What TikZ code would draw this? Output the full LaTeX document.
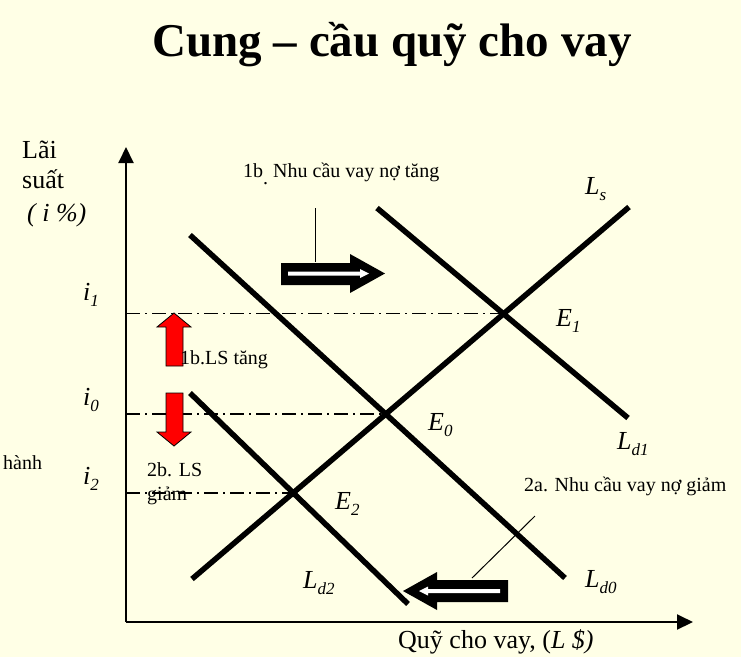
\documentclass[tikz,border=0pt]{standalone}
\usepackage{fontspec}
\setmainfont{Liberation Serif}
\definecolor{bg}{HTML}{FFFFE6}
\newcommand\fsz[1]{\fontsize{#1}{#1}\selectfont}
\newcommand\lab[2]{\textit{#1}\raisebox{-0.24em}{\fsz{17}\textit{#2}}}
\tikzset{
  txt/.style={inner sep=0pt, anchor=base west, font=\fsz{20}},
  big/.style={inner sep=0pt, anchor=base west, font=\fsz{26}},
  curve/.style={line width=5.5pt, line cap=butt},
  axis/.style={line width=2pt, -{Triangle[length=16pt,width=15pt]}},
  guide/.style={line width=1.3pt, dash pattern=on 14pt off 5pt on 2pt off 5pt},
  redarrow/.style={fill=red, draw=black, line width=0.8pt, line join=miter},
  fatarrow/.style={fill=black},
  callout/.style={line width=1pt}
}
\usetikzlibrary{arrows.meta}
\begin{document}
\begin{tikzpicture}[x=1pt,y=-1pt]
\fill[bg] (0,0) rectangle (741,657);
\useasboundingbox (0,0) rectangle (741,657);

% title
\node[inner sep=0pt, anchor=base, font=\fsz{47}\bfseries] (title) at (392,56) {Cung – cầu quỹ cho vay};

% axes
\coordinate (O) at (126,622);
\coordinate (ytop) at (126,147);
\coordinate (xend) at (693,622);
\draw[axis] (O) -- (ytop);
\draw[axis] (O) -- (xend);

% curves
\coordinate (ls1) at (192,579);
\coordinate (ls2) at (629,207);
\coordinate (d1a) at (377,208);
\coordinate (d1b) at (628,418);
\coordinate (d0a) at (190,235);
\coordinate (d0b) at (565,578);
\coordinate (d2a) at (190,393);
\coordinate (d2b) at (408,604);
\draw[curve] (ls1) -- (ls2);
\draw[curve] (d1a) -- (d1b);
\draw[curve] (d0a) -- (d0b);
\draw[curve] (d2a) -- (d2b);

\coordinate (E1) at (intersection of ls1--ls2 and d1a--d1b);
\coordinate (E0) at (intersection of ls1--ls2 and d0a--d0b);
\coordinate (E2) at (intersection of ls1--ls2 and d2a--d2b);

% guides
\draw[guide] (O |- E1) -- (E1);
\draw[guide] (O |- E0) -- (E0);
\draw[guide] (O |- E2) -- (E2);

% red arrows
\draw[redarrow] (166,366) -- (166,327) -- (157,327) -- (174,313) -- (191,327) -- (183,327) -- (183,366) -- cycle;
\draw[redarrow] (166,393) -- (183,393) -- (183,432) -- (191,432) -- (174,446) -- (157,432) -- (166,432) -- cycle;

% fat shift arrows
\fill[fatarrow] (281,263) -- (350,263) -- (350,254) -- (385,273.5) -- (350,293) -- (350,285) -- (281,285) -- cycle;
\fill[white] (288,271.5) -- (360,271.5) -- (360,269) -- (369,273.5) -- (360,278) -- (360,275.5) -- (288,275.5) -- cycle;
\fill[fatarrow] (508,580) -- (437,580) -- (437,572) -- (403,591) -- (437,610) -- (437,602) -- (508,602) -- cycle;
\fill[white] (500,589) -- (428,589) -- (428,586.5) -- (419,591) -- (428,595.5) -- (428,593) -- (500,593) -- cycle;

% callouts
\coordinate (c1a) at (315,208);
\coordinate (c1b) at (315,262);
\draw[callout] (c1a) -- (c1b);
\coordinate (c2a) at (535,516);
\coordinate (c2b) at (472,578);
\draw[callout] (c2a) -- (c2b);

% axis labels
\node[big] (lai) at (22,158) {Lãi};
\node[big] (suat) at (22,188) {suất};
\node[big] (ipct) at (27,221) {\itshape ( i \%)};
\node[big] (xlab) at (398,648) {Quỹ cho vay, (\textit{L \$)}};

\node[big] (i1) at (83,300) {\lab{i}{1}};
\node[big] (i0) at (83,405) {\lab{i}{0}};
\node[big] (i2) at (83,484) {\lab{i}{2}};

\node[big] (lE1) at (556,326) {\lab{E}{1}};
\node[big] (lE0) at (428,430) {\lab{E}{0}};
\node[big] (lE2) at (335,509) {\lab{E}{2}};
\node[big] (lLs) at (585,194) {\lab{L}{s}};
\node[big] (lLd1) at (617,449) {\lab{L}{d1}};
\node[big] (lLd0) at (585,587) {\lab{L}{d0}};
\node[big] (lLd2) at (303,588) {\lab{L}{d2}};

% small texts
\node[txt] (t1b) at (243,177) {1b\raisebox{-0.38em}{.} Nhu cầu vay nợ tăng};
\node[txt] (t2a) at (524,491) {2a. Nhu cầu vay nợ giảm};
\node[txt] (tls) at (180,364) {1b.LS tăng};
\node[txt] (t2b) at (147,476) {2b. LS};
\node[txt] (tgiam) at (147,500) {giảm};
\node[txt] (thanh) at (3,469) {hành};
\end{tikzpicture}
\end{document}
